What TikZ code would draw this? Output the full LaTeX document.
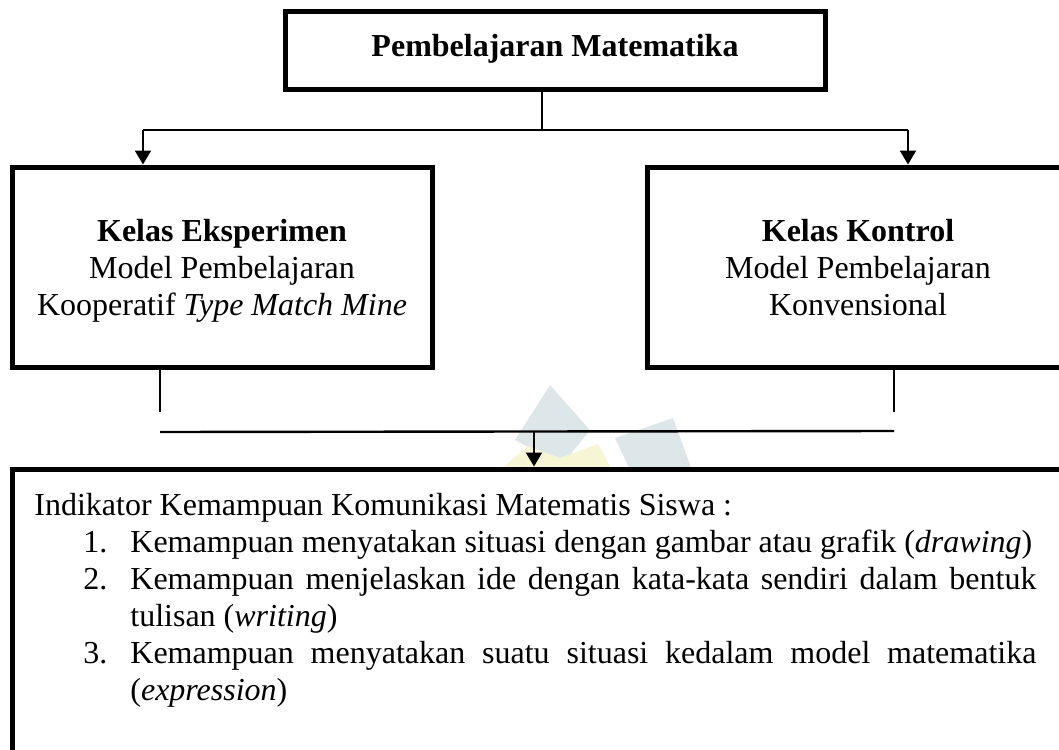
\documentclass[tikz,border=0pt]{standalone}
\usepackage{fontspec}
\setmainfont{Liberation Serif}
\usetikzlibrary{arrows.meta,positioning}
\definecolor{LogoBlue}{RGB}{221,231,234}
\definecolor{LogoYellow}{RGB}{246,246,212}
\hyphenpenalty=10000

\begin{document}
\begin{tikzpicture}[x=0.5pt,y=-0.5pt]
			\tikzstyle{Box}		= [draw, line width=2.5pt, fill=white, inner sep=0pt]
			\tikzstyle{Txt}		= [font=\fontsize{16}{18.5}\selectfont, inner sep=0pt]
			\tikzstyle{Item}	= [Txt, anchor=base west, text width=453pt, align=justify]
			\tikzstyle{Line}	= [line width=0.75pt]
			\tikzstyle{Arrow}	= [line width=1pt, -{Triangle[width=8pt,length=7pt]}]

			\useasboundingbox (0,0) rectangle (1059,749);
			\clip (0,0) rectangle (1059,749);

			% faint logo behind the joining lines
			\fill [LogoBlue] (550,385) -- (590,430) -- (562,465) -- (515,440) -- cycle;
			\fill [LogoBlue] (615,438) -- (673,418) -- (692,470) -- (630,470) -- cycle;
			\fill [LogoYellow] (500,470) -- (528,446) -- (560,458) -- (598,444) -- (612,470) -- cycle;

			\node (top) at (555,51) [Box, minimum width=270pt, minimum height=39pt] {};
			\node (eks) at (222,267) [Box, minimum width=210pt, minimum height=100pt] {};
			\node (kon) at (858,267) [Box, minimum width=211pt, minimum height=100pt] {};
			\node (ind) at (544,620) [Box, minimum width=532pt, minimum height=151pt] {};

			\node (topT) at (555,57) [Txt, anchor=base] {\textbf{Pembelajaran Matematika}};
			\node (eksT) at (222,271) [Txt, align=center] {\textbf{Kelas Eksperimen}\\Model Pembelajaran\\Kooperatif \emph{Type Match Mine}};
			\node (konT) at (858,268) [Txt, align=center] {\textbf{Kelas Kontrol}\\Model Pembelajaran\\Konvensional};

			\node (head) at (34,515) [Txt, anchor=base west] {Indikator Kemampuan Komunikasi Matematis Siswa :};
			\node (n1) at (83,552) [Txt, anchor=base west] {1.};
			\node (i1) at (130,552) [Item] {Kemampuan menyatakan situasi dengan gambar atau grafik (\emph{drawing})};
			\node (n2) at (83,589) [Txt, anchor=base west] {2.};
			\node (i2) at (130,589) [Item] {Kemampuan menjelaskan ide dengan kata-kata sendiri dalam bentuk tulisan (\emph{writing})};
			\node (n3) at (83,663) [Txt, anchor=base west] {3.};
			\node (i3) at (130,663) [Item] {Kemampuan menyatakan suatu situasi kedalam model matematika (\emph{expression})};

			\coordinate (split) at (542,130);
			\coordinate (ea) at (143,130);
			\coordinate (ka) at (908,130);
			\coordinate (ej) at (160,412);
			\coordinate (kj) at (894,412);
			\coordinate (ml) at (160,432);
			\coordinate (mr) at (894,431);
			\coordinate (join) at (534,432);

			\draw [-] (top.south -| split) to (split) [Line];
			\draw [-] (ea) to (ka) [Line];
			\draw (ea) to (eks.north -| ea) [Arrow];
			\draw (ka) to (kon.north -| ka) [Arrow];
			\draw [-] (eks.south -| ej) to (ej) [Line];
			\draw [-] (kon.south -| kj) to (kj) [Line];
			\draw [-] (ml) to (mr) [Line, line width=1.2pt];
			\draw (join) to (ind.north -| join) [Arrow];
		\end{tikzpicture}
\end{document}
